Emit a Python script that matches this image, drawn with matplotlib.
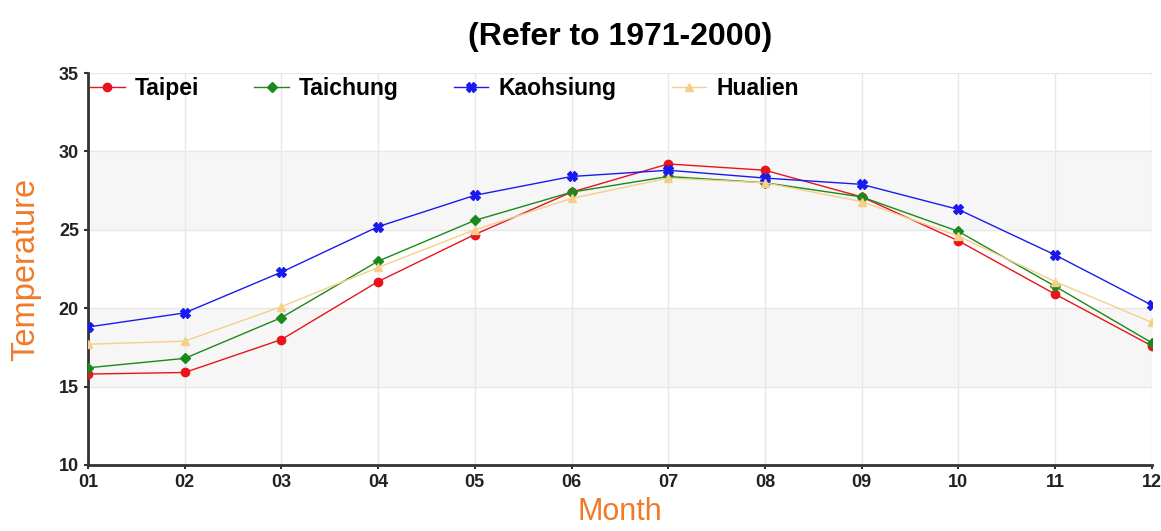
import matplotlib.pyplot as plt

months = ["01", "02", "03", "04", "05", "06", "07", "08", "09", "10", "11", "12"]
taipei = [15.8, 15.9, 18.0, 21.7, 24.7, 27.4, 29.2, 28.8, 27.1, 24.3, 20.9, 17.6]
taichung = [16.2, 16.8, 19.4, 23.0, 25.6, 27.4, 28.4, 28.0, 27.1, 24.9, 21.4, 17.8]
kaohsiung = [18.8, 19.7, 22.3, 25.2, 27.2, 28.4, 28.8, 28.3, 27.9, 26.3, 23.4, 20.2]
hualien = [17.7, 17.9, 20.1, 22.6, 25.0, 27.0, 28.3, 28.0, 26.8, 24.6, 21.7, 19.1]

series = [
    ("Taipei", taipei, "#e8141c", "o", 6),
    ("Taichung", taichung, "#1a8a1a", "D", 5),
    ("Kaohsiung", kaohsiung, "#1a1aee", "X", 7),
    ("Hualien", hualien, "#f5cf8a", "^", 6),
]

plt.rcParams["font.family"] = ["Liberation Sans", "DejaVu Sans"]

fig = plt.figure(figsize=(11.61, 5.31), dpi=100)
ax = fig.add_axes([0.0758, 0.1243, 0.9162, 0.7382])

x = list(range(len(months)))

# alternating gray bands
for lo, hi in [(15, 20), (25, 30)]:
    ax.axhspan(lo, hi, color="#f6f6f6", zorder=0)

for name, vals, color, marker, ms in series:
    ax.plot(x, vals, color=color, marker=marker, markersize=ms, linewidth=1.0,
            label=name, zorder=3)

ax.set_xlim(0, len(months) - 1)
ax.set_ylim(10, 35)
ax.set_xticks(x)
ax.set_xticklabels(months)
ax.set_yticks([10, 15, 20, 25, 30, 35])
ax.grid(True, color="#e8e8e8", linewidth=1, zorder=1)
ax.set_axisbelow(True)

for side in ["top", "right"]:
    ax.spines[side].set_visible(False)
for side in ["left", "bottom"]:
    ax.spines[side].set_linewidth(2)
    ax.spines[side].set_color("#333333")

ax.tick_params(axis="both", labelsize=13, length=3, width=1.5, color="#333333")
for lab in ax.get_xticklabels() + ax.get_yticklabels():
    lab.set_fontweight("bold")
    lab.set_color("#222222")

ax.set_xlabel("Month", fontsize=22, color="#f07a28", labelpad=4)
ax.set_ylabel("Temperature", fontsize=23.5, color="#f07a28", labelpad=13)
ax.set_title("(Refer to 1971-2000)", fontsize=23, fontweight="bold", pad=20)

leg = ax.legend(loc="upper left", ncol=4, frameon=False,
                prop={"weight": "bold", "size": 16.5}, borderaxespad=0.0,
                borderpad=0.1, columnspacing=2.4, handlelength=1.5,
                handletextpad=0.45, bbox_to_anchor=(0.0, 0.995))

fig.savefig("out.png", dpi=100)
